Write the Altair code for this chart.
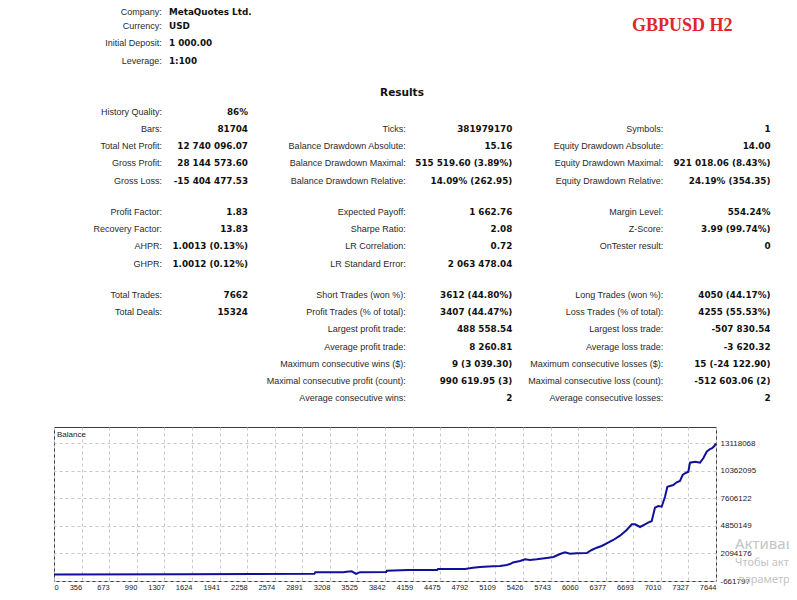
import altair as alt
import pandas as pd

# ---------------- data ----------------
HEADER_LABELS = ["Company:", "Currency:", "Initial Deposit:", "Leverage:"]
HEADER_VALUES = ["MetaQuotes Ltd.", "USD", "1 000.00", "1:100"]

TITLE = "GBPUSD H2"
RESULTS = "Results"

# column 0
C0_G0_LABELS = ["History Quality:", "Bars:", "Total Net Profit:", "Gross Profit:", "Gross Loss:"]
C0_G0_VALUES = ["86%", "81704", "12 740 096.07", "28 144 573.60", "-15 404 477.53"]
C0_G1_LABELS = ["Profit Factor:", "Recovery Factor:", "AHPR:", "GHPR:"]
C0_G1_VALUES = ["1.83", "13.83", "1.0013 (0.13%)", "1.0012 (0.12%)"]
C0_G2_LABELS = ["Total Trades:", "Total Deals:"]
C0_G2_VALUES = ["7662", "15324"]

# column 1
C1_G0_LABELS = ["Ticks:", "Balance Drawdown Absolute:", "Balance Drawdown Maximal:", "Balance Drawdown Relative:"]
C1_G0_VALUES = ["381979170", "15.16", "515 519.60 (3.89%)", "14.09% (262.95)"]
C1_G1_LABELS = ["Expected Payoff:", "Sharpe Ratio:", "LR Correlation:", "LR Standard Error:"]
C1_G1_VALUES = ["1 662.76", "2.08", "0.72", "2 063 478.04"]
C1_G2_LABELS = ["Short Trades (won %):", "Profit Trades (% of total):", "Largest profit trade:",
                "Average profit trade:", "Maximum consecutive wins ($):",
                "Maximal consecutive profit (count):", "Average consecutive wins:"]
C1_G2_VALUES = ["3612 (44.80%)", "3407 (44.47%)", "488 558.54", "8 260.81", "9 (3 039.30)",
                "990 619.95 (3)", "2"]

# column 2
C2_G0_LABELS = ["Symbols:", "Equity Drawdown Absolute:", "Equity Drawdown Maximal:", "Equity Drawdown Relative:"]
C2_G0_VALUES = ["1", "14.00", "921 018.06 (8.43%)", "24.19% (354.35)"]
C2_G1_LABELS = ["Margin Level:", "Z-Score:", "OnTester result:"]
C2_G1_VALUES = ["554.24%", "3.99 (99.74%)", "0"]
C2_G2_LABELS = ["Long Trades (won %):", "Loss Trades (% of total):", "Largest loss trade:",
                "Average loss trade:", "Maximum consecutive losses ($):",
                "Maximal consecutive loss (count):", "Average consecutive losses:"]
C2_G2_VALUES = ["4050 (44.17%)", "4255 (55.53%)", "-507 830.54", "-3 620.32", "15 (-24 122.90)",
                "-512 603.06 (2)", "2"]

# balance curve (trade number, balance)
TRADES = [0, 1500, 3030, 3040, 3360, 3400, 3459, 3508, 3554, 3855, 3861, 4106, 4440, 4450,
          4761, 4852, 4933, 5082, 5163, 5240, 5278, 5312, 5392, 5450, 5507, 5584, 5699, 5775,
          5852, 5909, 5967, 6044, 6159, 6216, 6274, 6331, 6388, 6464, 6541, 6618, 6676, 6714,
          6771, 6828, 6886, 6905, 6943, 6981, 7020, 7058, 7085, 7153, 7192, 7230, 7261, 7288,
          7326, 7345, 7403, 7460, 7498, 7537, 7575, 7600, 7625, 7644]
BALANCE = [1000, 15000, 69000, 209000, 209000, 269000, 310000, 50000, 220000, 240000, 370000,
           440000, 440000, 540000, 540000, 660000, 740000, 810000, 840000, 940000, 1040000,
           1200000, 1341000, 1511000, 1441000, 1511000, 1641000, 1741000, 2042000, 2212000,
           2072000, 2110000, 2142000, 2442000, 2673000, 2843000, 3113000, 3444000, 3874000,
           4445000, 5016000, 5016000, 4746000, 5016000, 5276000, 5330000, 6678000, 6849000,
           6779000, 7780000, 8781000, 8952000, 9222000, 9352000, 9953000, 10123000, 10284000,
           11185000, 11285000, 11185000, 11626000, 12286000, 12557000, 12650000, 12850000,
           13118068]

X_TICKS = [38, 356, 673, 990, 1307, 1624, 1941, 2258, 2574, 2891, 3208, 3525, 3842, 4159,
           4475, 4792, 5109, 5426, 5743, 6060, 6377, 6693, 7010, 7327, 7644]
Y_TICKS = [-661797, 2094176, 4850149, 7606122, 10362095, 13118068]

WATERMARK = ["Активация Windows", "Чтобы активировать Windows, перейдите в", "параметры"]

# ---------------- layout ----------------
PX0, PY0 = 54, 427          # plot origin on page
PW, PH = 662, 154           # plot size
ROW_STEP = 17.2
GROUP_TOP = [111.7, 212.0, 295.0]
COL_LABEL_R = [162.0, 405.7, 663.3]
COL_VALUE_R = [248.0, 512.3, 770.5]
HEADER_Y = [12.0, 26.1, 43.3, 60.5]

LABEL_FONT = "Liberation Sans"
VALUE_FONT = "DejaVu Sans"

table = [
    (0, 0, 0, C0_G0_LABELS, C0_G0_VALUES), (0, 1, 0, C0_G1_LABELS, C0_G1_VALUES),
    (0, 2, 0, C0_G2_LABELS, C0_G2_VALUES),
    (1, 0, 1, C1_G0_LABELS, C1_G0_VALUES), (1, 1, 0, C1_G1_LABELS, C1_G1_VALUES),
    (1, 2, 0, C1_G2_LABELS, C1_G2_VALUES),
    (2, 0, 1, C2_G0_LABELS, C2_G0_VALUES), (2, 1, 0, C2_G1_LABELS, C2_G1_VALUES),
    (2, 2, 0, C2_G2_LABELS, C2_G2_VALUES),
]

lab_rows, val_rows = [], []
for col, grp, start, labs, vals in table:
    for i, (l, v) in enumerate(zip(labs, vals)):
        y = GROUP_TOP[grp] + ROW_STEP * (start + i) - PY0
        lab_rows.append({"t": l, "px": COL_LABEL_R[col] - PX0, "py": y})
        val_rows.append({"t": v, "px": COL_VALUE_R[col] - PX0, "py": y})
for i, l in enumerate(HEADER_LABELS):
    lab_rows.append({"t": l, "px": 161.7 - PX0, "py": HEADER_Y[i] - PY0})

hdr_vals = pd.DataFrame([{"t": v, "px": 169 - PX0, "py": HEADER_Y[i] - PY0}
                         for i, v in enumerate(HEADER_VALUES)])
labs_df = pd.DataFrame(lab_rows)
vals_df = pd.DataFrame(val_rows)

XS = alt.X("px:Q", scale=None)
YS = alt.Y("py:Q", scale=None)

labels = alt.Chart(labs_df).mark_text(
    align="right", baseline="middle", font=LABEL_FONT, fontSize=9, color="#2a2a2a"
).encode(x=XS, y=YS, text="t:N")

values = alt.Chart(vals_df).mark_text(
    align="right", baseline="middle", font=VALUE_FONT, fontSize=8.8, fontWeight="bold", color="#111"
).encode(x=XS, y=YS, text="t:N")

hvalues = alt.Chart(hdr_vals).mark_text(
    align="left", baseline="middle", font=VALUE_FONT, fontSize=8.8, fontWeight="bold", color="#111"
).encode(x=XS, y=YS, text="t:N")

title_df = pd.DataFrame([{"t": TITLE, "px": 632 - PX0, "py": 26 - PY0}])
title = alt.Chart(title_df).mark_text(
    align="left", baseline="middle", font="Liberation Serif", fontSize=18, fontWeight="bold",
    color="#e0262b"
).encode(x=XS, y=YS, text="t:N")

res_df = pd.DataFrame([{"t": RESULTS, "px": 402 - PX0, "py": 93 - PY0}])
results = alt.Chart(res_df).mark_text(
    align="center", baseline="middle", font=VALUE_FONT, fontSize=10.5, fontWeight="bold", color="#111"
).encode(x=XS, y=YS, text="t:N")

bal_df = pd.DataFrame([{"t": "Balance", "px": 3, "py": 8}])
bal_label = alt.Chart(bal_df).mark_text(
    align="left", baseline="middle", font=LABEL_FONT, fontSize=8, color="#222"
).encode(x=XS, y=YS, text="t:N")

wm_df = pd.DataFrame([
    {"t": WATERMARK[0], "px": 735 - PX0, "py": 544 - PY0, "s": 15},
    {"t": WATERMARK[1], "px": 735 - PX0, "py": 563 - PY0, "s": 11},
    {"t": WATERMARK[2], "px": 738 - PX0, "py": 580 - PY0, "s": 11},
])
watermark = alt.Chart(wm_df).mark_text(
    align="left", baseline="middle", font="Noto Sans", color="#c4c4c4"
).encode(x=XS, y=YS, text="t:N", size=alt.Size("s:Q", scale=None, legend=None))

curve_df = pd.DataFrame({"trade": TRADES, "balance": BALANCE})
line = alt.Chart(curve_df).mark_line(color="#10109a", strokeWidth=2, clip=True).encode(
    x=alt.X("trade:Q",
            scale=alt.Scale(domain=[38, 7644], nice=False, zero=False),
            axis=alt.Axis(values=X_TICKS, title=None, grid=True, gridDash=[3, 3],
                          gridColor="#c8c8c8", ticks=False, domain=False,
                          labelFont=LABEL_FONT, labelFontSize=7.5, labelColor="#222",
                          labelPadding=2, labelFlush=False,
                          labelAlign={"condition": {"test": "datum.value < 100", "value": "left"},
                                      "value": "right"},
                          labelExpr="datum.value < 100 ? '0' : format(datum.value, 'd')")),
    y=alt.Y("balance:Q",
            scale=alt.Scale(domain=[-661797, 14760000], nice=False, zero=False),
            axis=alt.Axis(orient="right", values=Y_TICKS, title=None, grid=True, gridDash=[3, 3],
                          gridColor="#c8c8c8", ticks=False, domain=False,
                          labelFont=LABEL_FONT, labelFontSize=8, labelColor="#222",
                          labelPadding=4, labelFlush=False,
                          labelExpr="datum.value < 0 ? '-' + format(-datum.value, 'd') : format(datum.value, 'd')")),
)

chart = alt.layer(
    watermark, line, bal_label, labels, values, hvalues, title, results
).properties(
    width=PW, height=PH,
    padding={"left": PX0 - 8, "top": PY0 - 8, "right": 781 - (PX0 - 8) - PW, "bottom": 584 - (PY0 - 8) - PH},
    autosize=alt.AutoSizeParams(type="none"),
    background="white",
).configure_view(stroke="#3c3c3c", strokeWidth=1)

chart.save("out.html", embed_options={"renderer": "svg", "actions": False})
